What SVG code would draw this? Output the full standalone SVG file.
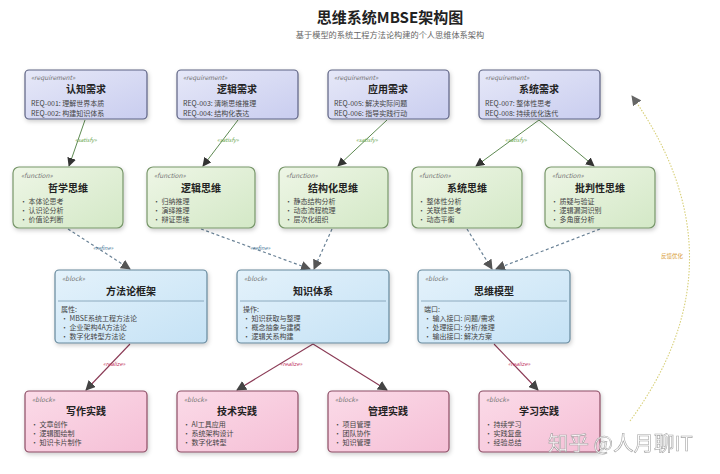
<svg xmlns="http://www.w3.org/2000/svg" width="720" height="474" viewBox="0 0 720 474">
<defs>
<linearGradient id="gReq" x1="0" y1="0" x2="1" y2="1"><stop offset="0" stop-color="#e6e8f8"/><stop offset="1" stop-color="#c9cdef"/></linearGradient>
<linearGradient id="gFun" x1="0" y1="0" x2="1" y2="1"><stop offset="0" stop-color="#eef6e6"/><stop offset="1" stop-color="#d3e8c6"/></linearGradient>
<linearGradient id="gBlk" x1="0" y1="0" x2="1" y2="1"><stop offset="0" stop-color="#e4f2fb"/><stop offset="1" stop-color="#c5e2f5"/></linearGradient>
<linearGradient id="gPra" x1="0" y1="0" x2="1" y2="1"><stop offset="0" stop-color="#fbdbe8"/><stop offset="1" stop-color="#f5bfd6"/></linearGradient>
<filter id="sh" x="-10%" y="-10%" width="130%" height="140%"><feDropShadow dx="1" dy="2" stdDeviation="2" flood-color="#000" flood-opacity="0.2"/></filter>
<marker id="aG" viewBox="0 0 10 10" refX="9" refY="5" markerWidth="9" markerHeight="9" orient="auto" markerUnits="userSpaceOnUse"><path d="M0,0 L10,5 L0,10 z" fill="#333"/></marker>
<marker id="aB" viewBox="0 0 10 10" refX="9" refY="5" markerWidth="10" markerHeight="10" orient="auto" markerUnits="userSpaceOnUse"><path d="M0,0 L10,5 L0,10 z" fill="#555"/></marker>
<marker id="aR" viewBox="0 0 10 10" refX="9" refY="5" markerWidth="10" markerHeight="10" orient="auto" markerUnits="userSpaceOnUse"><path d="M0,0 L10,5 L0,10 z" fill="#444"/></marker>
<marker id="aF" viewBox="0 0 10 10" refX="9" refY="5" markerWidth="10" markerHeight="10" orient="auto" markerUnits="userSpaceOnUse"><path d="M0,0 L10,5 L0,10 z" fill="#666"/></marker>
</defs>
<style>
text{font-family:"Noto Sans CJK SC","Noto Sans","Liberation Sans",sans-serif;}
.req rect{fill:url(#gReq);stroke:#5d6283;stroke-width:1.2;filter:url(#sh);}
.fun rect{fill:url(#gFun);stroke:#78976a;stroke-width:1.2;filter:url(#sh);}
.blk rect{fill:url(#gBlk);stroke:#66889c;stroke-width:1.2;filter:url(#sh);}
.pra rect{fill:url(#gPra);stroke:#8c4c64;stroke-width:1.2;filter:url(#sh);}
.st{font-size:6.5px;font-style:italic;fill:#777;}
.tt{font-size:10px;font-weight:bold;fill:#222;text-anchor:middle;}
.ln{font-size:7px;fill:#444;}
.sep{stroke:#7a9bb0;stroke-width:0.8;}
.sat{stroke:#5e8a52;stroke-width:1;fill:none;marker-end:url(#aG);}
.ref{stroke:#6a8296;stroke-width:1.2;stroke-dasharray:3,2.5;fill:none;marker-end:url(#aB);}
.rea{stroke:#8a3a55;stroke-width:1.1;fill:none;marker-end:url(#aR);}
.lbS{font-size:5.5px;fill:#6aa84f;font-style:italic;}
.lbR{font-size:5.5px;fill:#4a7a9a;font-style:italic;}
.lbZ{font-size:5.5px;fill:#c2365f;font-style:italic;}
</style>
<rect width="720" height="474" fill="#ffffff"/>
<text x="390" y="23" font-size="15" font-weight="bold" text-anchor="middle" fill="#222">思维系统MBSE架构图</text>
<text x="390" y="38" font-size="8.2" text-anchor="middle" fill="#666">基于模型的系统工程方法论构建的个人思维体系架构</text>

<g id="connectors">
<path class="sat" d="M85,120 L69,166"/>
<path class="sat" d="M238,120 L203,166"/>
<path class="sat" d="M387,120 L338,166"/>
<path class="sat" d="M539,120 L476,166"/>
<path class="sat" d="M539,120 L594,166"/>
<text class="lbS" x="75" y="142">«satisfy»</text>
<text class="lbS" x="217" y="142">«satisfy»</text>
<text class="lbS" x="356" y="142">«satisfy»</text>
<text class="lbS" x="505" y="142">«satisfy»</text>
<path class="ref" d="M68,229 L130,269"/>
<path class="ref" d="M201,229 L310,269"/>
<path class="ref" d="M332,229 L314,269"/>
<path class="ref" d="M467,229 L492,269"/>
<path class="ref" d="M600,229 L496,269"/>
<text class="lbR" x="93" y="250">«refine»</text>
<text class="lbR" x="250" y="250">«refine»</text>
<path class="rea" d="M130,344 L86,390"/>
<path class="rea" d="M313,344 L237,390"/>
<path class="rea" d="M313,344 L387,390"/>
<path class="rea" d="M494,344 L538,390"/>
<text class="lbZ" x="103" y="366">«realize»</text>
<text class="lbZ" x="280" y="366">«realize»</text>
<text class="lbZ" x="508" y="366">«realize»</text>
<path d="M630,421 Q748,260 632,96" fill="none" stroke="#d8d07a" stroke-width="1.1" stroke-dasharray="1.5,1.5" marker-end="url(#aF)"/>
<text x="672" y="258" font-size="5.5" fill="#d9a040" text-anchor="middle">反馈优化</text>
</g>

<g id="req1" class="req"><rect x="25" y="70" width="122" height="49" rx="4"/>
<text class="st" x="31" y="80">«requirement»</text><text class="tt" x="86" y="93">认知需求</text>
<text class="ln" x="31" y="106">REQ-001: 理解世界本质</text><text class="ln" x="31" y="116">REQ-002: 构建知识体系</text></g>
<g id="req2" class="req"><rect x="177" y="70" width="121" height="49" rx="4"/>
<text class="st" x="183" y="80">«requirement»</text><text class="tt" x="237" y="93">逻辑需求</text>
<text class="ln" x="183" y="106">REQ-003: 清晰思维推理</text><text class="ln" x="183" y="116">REQ-004: 结构化表达</text></g>
<g id="req3" class="req"><rect x="328" y="70" width="121" height="49" rx="4"/>
<text class="st" x="334" y="80">«requirement»</text><text class="tt" x="388" y="93">应用需求</text>
<text class="ln" x="334" y="106">REQ-005: 解决实际问题</text><text class="ln" x="334" y="116">REQ-006: 指导实践行动</text></g>
<g id="req4" class="req"><rect x="479" y="70" width="121" height="49" rx="4"/>
<text class="st" x="485" y="80">«requirement»</text><text class="tt" x="539" y="93">系统需求</text>
<text class="ln" x="485" y="106">REQ-007: 整体性思考</text><text class="ln" x="485" y="116">REQ-008: 持续优化迭代</text></g>

<g id="fun1" class="fun"><rect x="13" y="167" width="110" height="61" rx="6"/>
<text class="st" x="21" y="178">«function»</text><text class="tt" x="68" y="192">哲学思维</text>
<text class="ln" x="20" y="204">• 本体论思考</text><text class="ln" x="20" y="213">• 认识论分析</text><text class="ln" x="20" y="222">• 价值论判断</text></g>
<g id="fun2" class="fun"><rect x="147" y="167" width="108" height="61" rx="6"/>
<text class="st" x="154" y="178">«function»</text><text class="tt" x="201" y="192">逻辑思维</text>
<text class="ln" x="153" y="204">• 归纳推理</text><text class="ln" x="153" y="213">• 演绎推理</text><text class="ln" x="153" y="222">• 辩证思维</text></g>
<g id="fun3" class="fun"><rect x="279" y="167" width="109" height="61" rx="6"/>
<text class="st" x="286" y="178">«function»</text><text class="tt" x="333" y="192">结构化思维</text>
<text class="ln" x="285" y="204">• 静态结构分析</text><text class="ln" x="285" y="213">• 动态流程梳理</text><text class="ln" x="285" y="222">• 层次化组织</text></g>
<g id="fun4" class="fun"><rect x="412" y="167" width="110" height="61" rx="6"/>
<text class="st" x="419" y="178">«function»</text><text class="tt" x="467" y="192">系统思维</text>
<text class="ln" x="418" y="204">• 整体性分析</text><text class="ln" x="418" y="213">• 关联性思考</text><text class="ln" x="418" y="222">• 动态平衡</text></g>
<g id="fun5" class="fun"><rect x="545" y="167" width="110" height="61" rx="6"/>
<text class="st" x="552" y="178">«function»</text><text class="tt" x="600" y="192">批判性思维</text>
<text class="ln" x="551" y="204">• 质疑与验证</text><text class="ln" x="551" y="213">• 逻辑漏洞识别</text><text class="ln" x="551" y="222">• 多角度分析</text></g>

<g id="blk1" class="blk"><rect x="55" y="270" width="152" height="73" rx="4"/>
<text class="st" x="62" y="281">«block»</text><text class="tt" x="131" y="295">方法论框架</text>
<line class="sep" x1="58" y1="301" x2="204" y2="301"/>
<text class="ln" x="61" y="312">属性:</text><text class="ln" x="61" y="321">• MBSE系统工程方法论</text><text class="ln" x="61" y="330">• 企业架构4A方法论</text><text class="ln" x="61" y="339">• 数字化转型方法论</text></g>
<g id="blk2" class="blk"><rect x="237" y="270" width="152" height="73" rx="4"/>
<text class="st" x="244" y="281">«block»</text><text class="tt" x="313" y="295">知识体系</text>
<line class="sep" x1="240" y1="301" x2="386" y2="301"/>
<text class="ln" x="243" y="312">操作:</text><text class="ln" x="243" y="321">• 知识获取与整理</text><text class="ln" x="243" y="330">• 概念抽象与建模</text><text class="ln" x="243" y="339">• 逻辑关系构建</text></g>
<g id="blk3" class="blk"><rect x="418" y="270" width="152" height="73" rx="4"/>
<text class="st" x="425" y="281">«block»</text><text class="tt" x="494" y="295">思维模型</text>
<line class="sep" x1="421" y1="301" x2="567" y2="301"/>
<text class="ln" x="424" y="312">端口:</text><text class="ln" x="424" y="321">• 输入接口: 问题/需求</text><text class="ln" x="424" y="330">• 处理接口: 分析/推理</text><text class="ln" x="424" y="339">• 输出接口: 解决方案</text></g>

<g id="pra1" class="pra"><rect x="25" y="391" width="122" height="61" rx="4"/>
<text class="st" x="32" y="402">«block»</text><text class="tt" x="86" y="415">写作实践</text>
<text class="ln" x="31" y="427">• 文章创作</text><text class="ln" x="31" y="436">• 逻辑图绘制</text><text class="ln" x="31" y="445">• 知识卡片制作</text></g>
<g id="pra2" class="pra"><rect x="177" y="391" width="121" height="61" rx="4"/>
<text class="st" x="184" y="402">«block»</text><text class="tt" x="237" y="415">技术实践</text>
<text class="ln" x="183" y="427">• AI工具应用</text><text class="ln" x="183" y="436">• 系统架构设计</text><text class="ln" x="183" y="445">• 数字化转型</text></g>
<g id="pra3" class="pra"><rect x="328" y="391" width="121" height="61" rx="4"/>
<text class="st" x="335" y="402">«block»</text><text class="tt" x="388" y="415">管理实践</text>
<text class="ln" x="334" y="427">• 项目管理</text><text class="ln" x="334" y="436">• 团队协作</text><text class="ln" x="334" y="445">• 知识管理</text></g>
<g id="pra4" class="pra"><rect x="479" y="391" width="121" height="61" rx="4"/>
<text class="st" x="486" y="402">«block»</text><text class="tt" x="539" y="415">学习实践</text>
<text class="ln" x="485" y="427">• 持续学习</text><text class="ln" x="485" y="436">• 实践复盘</text><text class="ln" x="485" y="445">• 经验总结</text></g>

<text x="548" y="451" font-size="20.5" fill="#ffffff" stroke="#9a9a9a" stroke-width="0.6" opacity="0.9">知乎 @人月聊IT</text>
</svg>
